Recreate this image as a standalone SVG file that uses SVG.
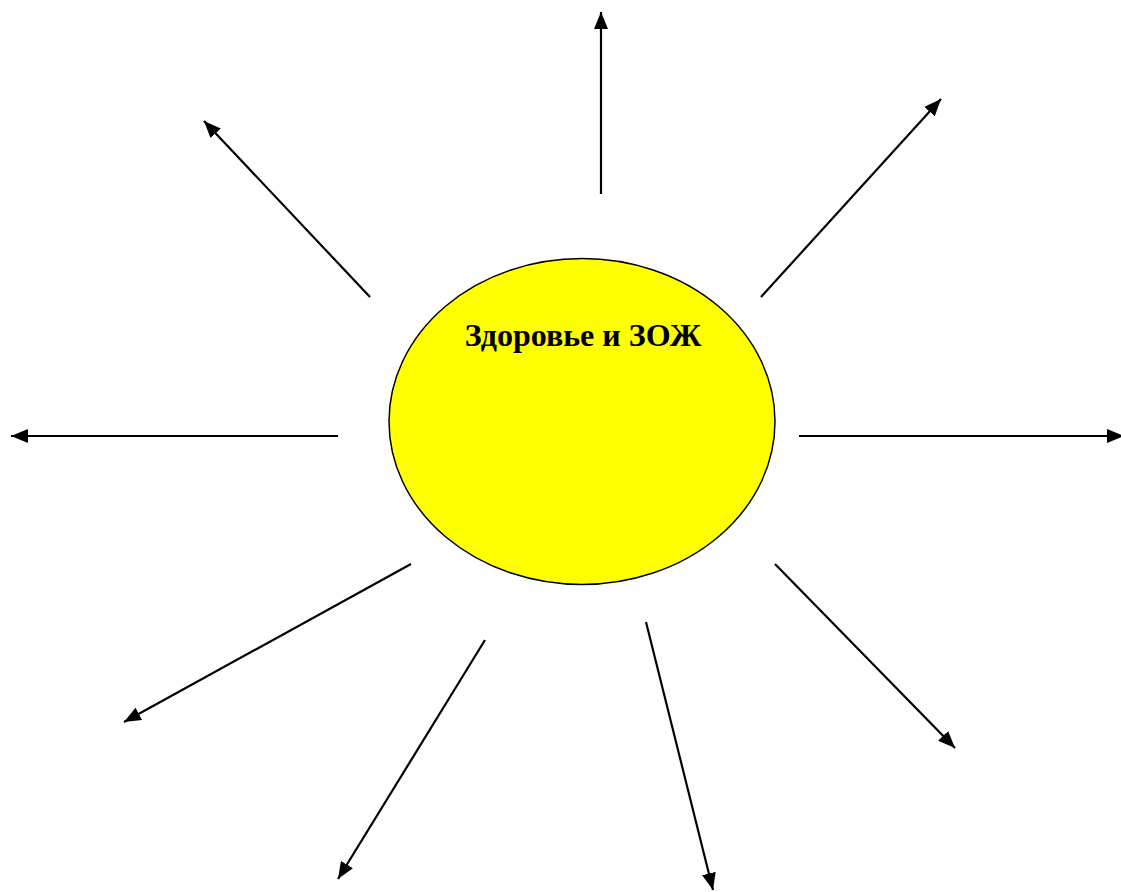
<svg xmlns="http://www.w3.org/2000/svg" width="1121" height="892" viewBox="0 0 1121 892">
<style>
.ray{stroke:#000;stroke-width:2.2;fill:none;marker-end:url(#ah)}
.lbl{font-family:"Liberation Serif","Times New Roman",serif;font-weight:bold;font-size:32px;fill:#000}
</style>
<defs>
<marker id="ah" markerUnits="userSpaceOnUse" markerWidth="17" markerHeight="14" refX="17" refY="7" orient="auto" viewBox="0 0 17 14">
<path d="M0,0 L17,7 L0,14 z" fill="#000"/>
</marker>
</defs>
<rect width="1121" height="892" fill="#fff"/>
<g id="sun">
<ellipse cx="582" cy="421.5" rx="193" ry="163" fill="#ffff00" stroke="#000" stroke-width="1.5"/>
<text class="lbl" x="583" y="346" text-anchor="middle">Здоровье и ЗОЖ</text>
</g>
<g id="connectors">
<line class="ray" x1="601" y1="194" x2="601" y2="12"/>
<line class="ray" x1="761" y1="297" x2="941" y2="99"/>
<line class="ray" x1="370" y1="297" x2="204" y2="121"/>
<line class="ray" x1="338" y1="436" x2="11" y2="436"/>
<line class="ray" x1="799" y1="436" x2="1124" y2="436"/>
<line class="ray" x1="411" y1="564" x2="124" y2="722"/>
<line class="ray" x1="485" y1="640" x2="338" y2="879"/>
<line class="ray" x1="646" y1="622" x2="713" y2="890"/>
<line class="ray" x1="775" y1="564" x2="955" y2="748"/>
</g>
</svg>
